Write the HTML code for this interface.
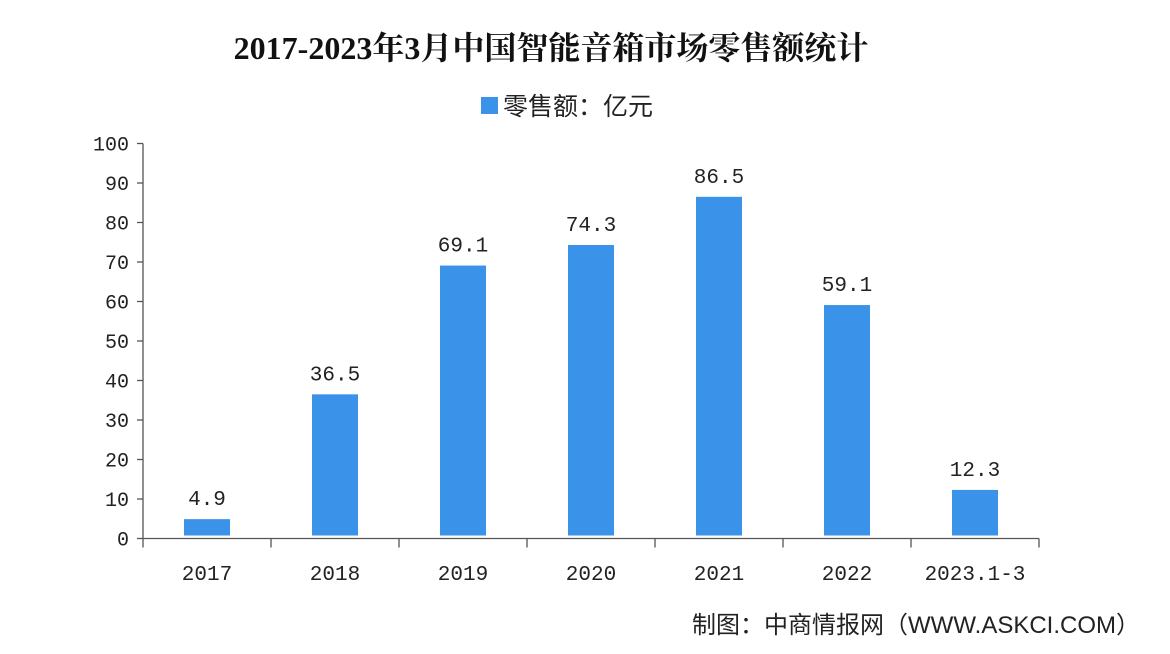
<!DOCTYPE html>
<html><head><meta charset="utf-8"><style>
html,body{margin:0;padding:0;background:#fff;}
svg{display:block;}
</style></head><body>
<svg width="1170" height="654" xmlns="http://www.w3.org/2000/svg">
<text x="551" y="59" text-anchor="middle" font-family="'Liberation Serif','Noto Serif CJK SC',serif" font-weight="bold" font-size="32" fill="#111">2017-2023年3月中国智能音箱市场零售额统计</text>
<g>
<rect x="481" y="97" width="17" height="17" fill="#3a93e8"/>
<text x="503" y="115" font-family="'Liberation Sans','Noto Sans CJK SC',sans-serif" font-size="25" fill="#222">零售额：亿元</text>
</g>
<g id="yaxis"></g>
<g id="xaxis"></g>
<g id="bars"></g>
<text x="1140" y="633" text-anchor="end" font-family="'Liberation Sans','Noto Sans CJK SC',sans-serif" font-size="24" fill="#222">制图：中商情报网（WWW.ASKCI.COM）</text>
</svg>
<script>
const categories=["2017","2018","2019","2020","2021","2022","2023.1-3"];
const values=[4.9,36.5,69.1,74.3,86.5,59.1,12.3];
const yTicks=[0,10,20,30,40,50,60,70,80,90,100];
const NS="http://www.w3.org/2000/svg";
const x0=143,band=128,y0=538.5,yMax=100,yTop=143.5;
function yScale(v){return y0-(v/yMax)*(y0-yTop);}
function xCenter(i){return x0+band*(i+0.5);}
function mk(tag,attrs,parent,text){const e=document.createElementNS(NS,tag);for(const k in attrs)e.setAttribute(k,attrs[k]);if(text!==undefined)e.textContent=text;parent.appendChild(e);return e;}
const ya=document.getElementById('yaxis'),xa=document.getElementById('xaxis'),bg=document.getElementById('bars');
const mono="'Liberation Mono','Noto Sans CJK SC',monospace";
let l=mk('line',{x1:x0,y1:yTop,x2:x0,y2:y0,stroke:'#555','stroke-width':1.3},ya);


yTicks.forEach(t=>{const y=yScale(t);
let tk=mk('line',{x1:x0-6,y1:y,x2:x0,y2:y,stroke:'#555','stroke-width':1.3},ya);


let tx=mk('text',{x:x0-14,y:y+7,'text-anchor':'end','font-family':mono,'font-size':20,fill:'#222'},ya,String(t));

});
let xl=mk('line',{x1:x0,y1:y0,x2:x0+band*categories.length,y2:y0,stroke:'#555','stroke-width':1.3},xa);


for(let i=0;i<=categories.length;i++){let tk=mk('line',{x1:x0+band*i,y1:y0,x2:x0+band*i,y2:y0+9,stroke:'#555','stroke-width':1.3},xa);

}
categories.forEach((c,i)=>{let tx=mk('text',{x:xCenter(i),y:580,'text-anchor':'middle','font-family':mono,'font-size':21,fill:'#222'},xa,c);

});
values.forEach((v,i)=>{const w=46,y=yScale(v);
let r=mk('rect',{x:xCenter(i)-w/2,y:y,width:w,height:y0-3-y,fill:'#3a93e8'},bg);


let t=mk('text',{x:xCenter(i),y:y-14,'text-anchor':'middle','font-family':mono,'font-size':21,fill:'#222'},bg,v.toFixed(1));

});
</script>
</body></html>
